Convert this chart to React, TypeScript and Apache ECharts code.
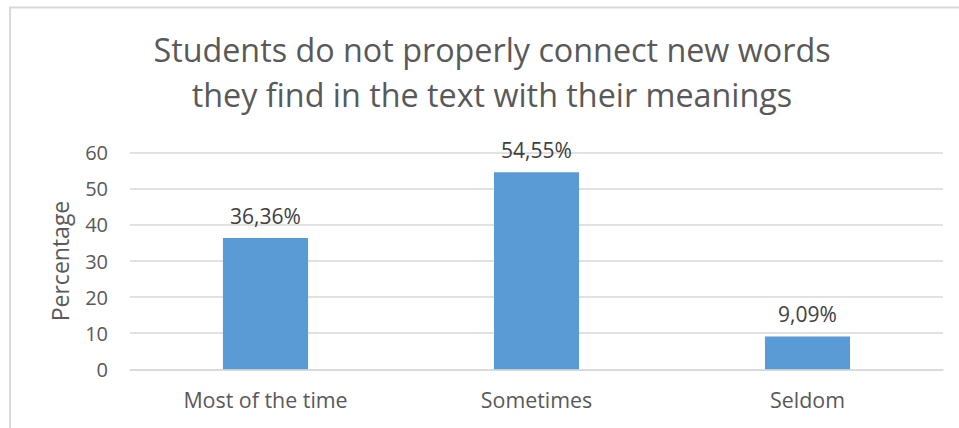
import React, { useEffect, useRef } from "react";
import * as echarts from "echarts";

const titleLines = [
  "Students do not properly connect new words",
  "they find in the text with their meanings",
];
const categories = ["Most of the time", "Sometimes", "Seldom"];
const values = [36.36, 54.55, 9.09];
const yAxisName = "Percentage";
const yMin = 0;
const yMax = 60;
const yInterval = 10;

const FONT = "Open Sans";
const TEXT = "#595959";

export default function App() {
  const ref = useRef<HTMLDivElement>(null);
  useEffect(() => {
    if (!ref.current) return;
    const chart = echarts.init(ref.current, undefined, { renderer: "svg" });
    chart.setOption({
      animation: false,
      backgroundColor: "#ffffff",
      textStyle: { fontFamily: FONT },
      title: {
        text: titleLines.join("\n"),
        left: 492,
        top: 26,
        padding: 0,
        textAlign: "center",
        textStyle: {
          fontFamily: FONT,
          fontSize: 32.3,
          fontWeight: "normal",
          color: TEXT,
          lineHeight: 45,
        },
      },
      graphic: [
        {
          type: "line",
          shape: { x1: 9, y1: 7.5, x2: 959, y2: 7.5 },
          style: { stroke: "#D9D9D9", lineWidth: 2 },
        },
        {
          type: "line",
          shape: { x1: 10, y1: 7, x2: 10, y2: 428 },
          style: { stroke: "#D9D9D9", lineWidth: 2 },
        },
      ],
      grid: { left: 130, right: 16, top: 152.7, bottom: 58.7 },
      xAxis: {
        type: "category",
        data: categories,
        axisLine: { show: true, lineStyle: { color: "#D9D9D9", width: 1.5 } },
        axisTick: { show: false },
        axisLabel: {
          color: TEXT,
          fontFamily: FONT,
          fontSize: 21.4,
          margin: 20,
        },
      },
      yAxis: {
        type: "value",
        min: yMin,
        max: yMax,
        interval: yInterval,
        name: yAxisName,
        nameLocation: "middle",
        nameGap: 59,
        nameTextStyle: { color: TEXT, fontFamily: FONT, fontSize: 23 },
        axisLine: { show: false },
        axisTick: { show: false },
        splitLine: { lineStyle: { color: "#D9D9D9", width: 1.5 } },
        axisLabel: {
          color: TEXT,
          fontFamily: FONT,
          fontSize: 20,
          margin: 22,
        },
      },
      series: [
        {
          type: "bar",
          data: values,
          barWidth: "31.4%",
          itemStyle: { color: "#5B9BD5" },
          label: {
            show: true,
            position: "top",
            distance: 12,
            color: "#404040",
            fontFamily: FONT,
            fontSize: 21,
            formatter: (p: any) => p.value.toFixed(2).replace(".", ",") + "%",
          },
        },
      ],
    });
    return () => chart.dispose();
  }, []);
  return (
    <div
      ref={ref}
      style={{ position: "fixed", left: 0, top: 0, width: 959, height: 428 }}
    />
  );
}
